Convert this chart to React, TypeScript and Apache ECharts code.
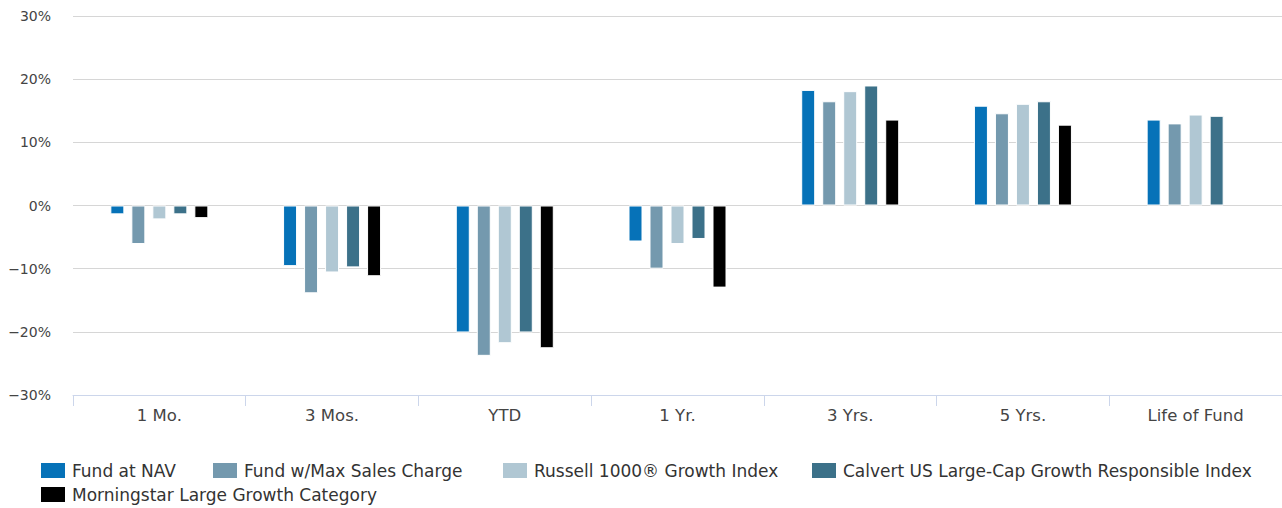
import React, { useEffect, useRef } from "react";
import * as echarts from "echarts";

const categories = ["1 Mo.", "3 Mos.", "YTD", "1 Yr.", "3 Yrs.", "5 Yrs.", "Life of Fund"];
const seriesNames = [
  "Fund at NAV",
  "Fund w/Max Sales Charge",
  "Russell 1000® Growth Index",
  "Calvert US Large-Cap Growth Responsible Index",
  "Morningstar Large Growth Category",
];
const fundAtNav = [-1.4, -9.6, -20.1, -5.7, 18.3, 15.8, 13.6];
const fundMaxCharge = [-6.1, -13.9, -23.8, -10.0, 16.5, 14.6, 13.0];
const russell = [-2.2, -10.6, -21.8, -6.1, 18.1, 16.1, 14.4];
const calvert = [-1.4, -9.8, -20.1, -5.3, 19.0, 16.5, 14.2];
const morningstar = [-2.0, -11.2, -22.6, -13.0, 13.6, 12.8, null];
const seriesColors = ["#0672b8", "#7499ae", "#b0c7d3", "#3c7189", "#000000"];
const yTicks = { min: -30, max: 30, interval: 10 };

const FONT = "'DejaVu Sans', sans-serif";
// legend item placement (left, top)
const legendPos: [number, number][] = [
  [41, 462],
  [213, 462],
  [503, 462],
  [812, 462],
  [41, 486],
];

export default function App() {
  const ref = useRef<HTMLDivElement>(null);
  useEffect(() => {
    document.body.style.margin = "0";
    if (!ref.current) return;
    const chart = echarts.init(ref.current, undefined, { renderer: "svg" });
    const allData = [fundAtNav, fundMaxCharge, russell, calvert, morningstar];
    chart.setOption({
      animation: false,
      grid: { left: 73, right: 0, top: 16, bottom: 113, containLabel: false },
      legend: seriesNames.map((name, i) => ({
        left: legendPos[i][0],
        top: legendPos[i][1],
        padding: 0,
        itemWidth: 24,
        itemHeight: 15,
        icon: "rect",
        itemStyle: { borderWidth: 0 },
        textStyle: { fontFamily: FONT, fontSize: 17, color: "#333", padding: [0, 0, 0, 2] },
        data: [name],
      })),
      xAxis: {
        type: "category",
        data: categories,
        axisLine: { onZero: false, lineStyle: { color: "#ccd6eb", width: 1 } },
        axisTick: { show: true, length: 11, lineStyle: { color: "#ccd6eb" } },
        axisLabel: { fontFamily: FONT, fontSize: 16.5, color: "#444", margin: 12 },
        position: "bottom",
      },
      yAxis: {
        type: "value",
        min: yTicks.min,
        max: yTicks.max,
        interval: yTicks.interval,
        axisLine: { show: false },
        axisTick: { show: false },
        splitLine: { lineStyle: { color: "#d6d6d6", width: 1 } },
        axisLabel: {
          fontFamily: FONT,
          fontSize: 14,
          color: "#444",
          margin: 22,
          formatter: (v: number) => (v < 0 ? "\u2212" + Math.abs(v) : String(v)) + "%",
        },
      },
      series: seriesNames.map((name, i) => ({
        name,
        type: "bar",
        data: allData[i],
        barWidth: 14,
        barGap: "50%",
        itemStyle: { color: seriesColors[i], borderColor: "#ffffff", borderWidth: 1 },
      })),
    });
    return () => chart.dispose();
  }, []);
  return <div ref={ref} style={{ width: 1282, height: 508 }} />;
}
